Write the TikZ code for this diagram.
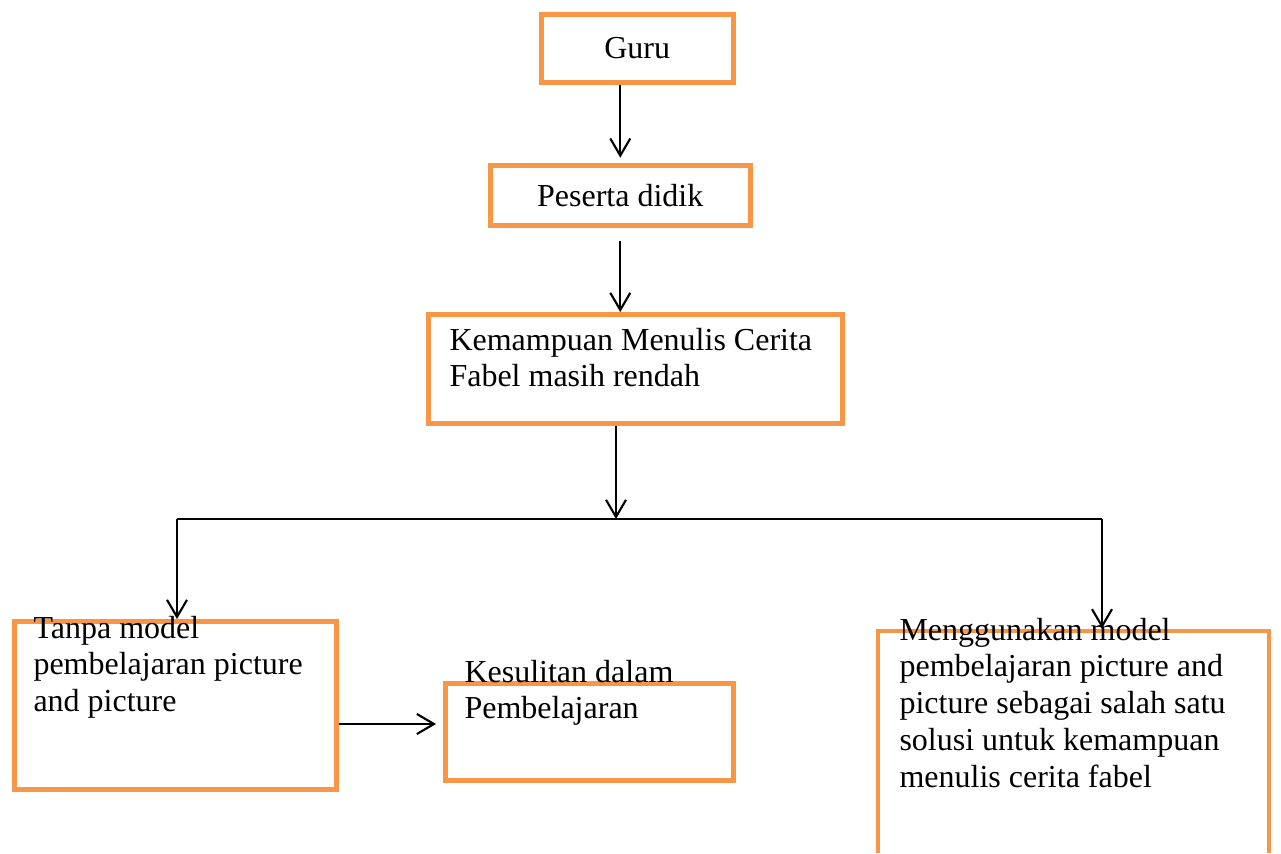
\documentclass[tikz,border=0pt]{standalone}
\usepackage{fontspec}
\setmainfont{Liberation Serif}
\usetikzlibrary{arrows.meta}
\definecolor{jingga}{RGB}{247,150,70}

\begin{document}
\begin{tikzpicture}[x=0.375pt,y=-0.375pt,
    kotak/.style={draw=jingga, line width=1.7pt, inner sep=0pt, anchor=north west,
      font=\fontsize{12}{13.8}\selectfont},
    isi/.style={anchor=base west, inner sep=0pt, align=flush left, text width=160pt,
      font=\fontsize{12}{13.8}\selectfont},
    panah/.style={-{Straight Barb[length=6.4pt,width=7.5pt]}, line width=0.8pt}]
    \useasboundingbox (0,0) rectangle (1281,853);

    % kotak-kotak
    \node[kotak, minimum width=72pt, minimum height=25.5pt] (guru) at (539,12) {Guru};
    \node[kotak, minimum width=97.5pt, minimum height=22.5pt] (peserta) at (488,163) {Peserta didik};
    \node[kotak, minimum width=155.25pt, minimum height=40.9pt] (kemampuan) at (426,312) {};
    \node[kotak, minimum width=120.75pt, minimum height=63pt] (tanpa) at (12,619) {};
    \node[kotak, minimum width=108pt, minimum height=36.4pt] (kesulitan) at (443,681) {};
    \node[kotak, draw=none, outer sep=0pt, minimum width=146.6pt, minimum height=83.25pt] (solusi) at (878,631) {};
    \draw[jingga, line width=1.7pt] (solusi.south west) |- (solusi.north east) -- (solusi.south east);

    % teks
    \node[isi] (tkemampuan) at (449,350) {Kemampuan Menulis Cerita\\Fabel masih rendah};
    \node[isi] (ttanpa) at (33,638) {Tanpa model\\pembelajaran picture\\and picture};
    \node[isi] (tkesulitan) at (464,682) {Kesulitan dalam\\Pembelajaran};
    \node[isi] (tsolusi) at (899,640) {Menggunakan model\\pembelajaran picture and\\picture sebagai salah satu\\solusi untuk kemampuan\\menulis cerita fabel};

    % panah
    \coordinate (cabang) at (616,519);
    \coordinate (cabangkiri) at (177,519);
    \coordinate (cabangkanan) at (1102,519);
    \coordinate (sambung) at (336,724);

    \draw[panah, shorten >=2pt] (guru.south -| peserta.north) -- (peserta.north);
    \draw[panah, shorten <=5pt] (peserta.south) -- (peserta.south |- kemampuan.north);
    \draw[panah] (kemampuan.south -| cabang) -- (cabang);
    \draw[line width=0.8pt] (cabangkiri) -- (cabangkanan);
    \draw[panah] (cabangkiri) -- (tanpa.north -| cabangkiri);
    \draw[panah] (cabangkanan) -- ([yshift=1pt]solusi.north -| cabangkanan);
    \draw[panah, shorten >=2.6pt] (tanpa.east |- sambung) -- (kesulitan.west |- sambung);
\end{tikzpicture}
\end{document}
